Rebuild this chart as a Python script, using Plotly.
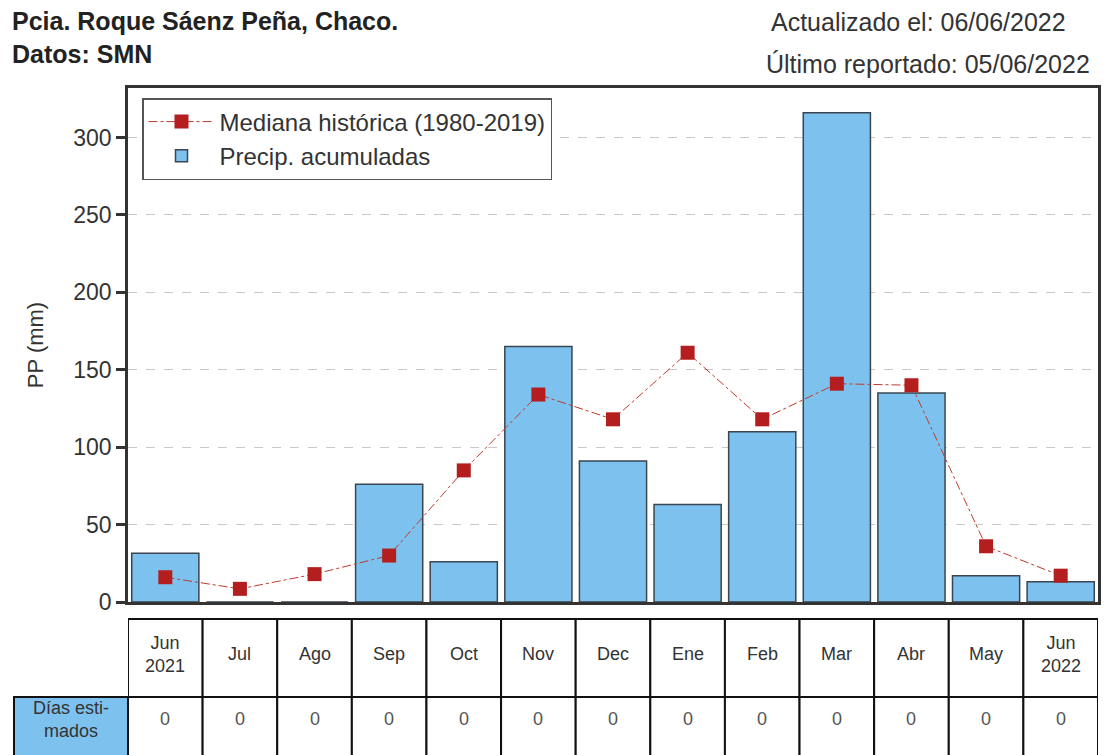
import plotly.graph_objects as go

# ---- data ----
months = ["Jun<br>2021", "Jul", "Ago", "Sep", "Oct", "Nov", "Dec", "Ene", "Feb", "Mar", "Abr", "May", "Jun<br>2022"]
precip = [31.5, 0, 0, 76, 26, 165, 91, 63, 110, 316, 135, 17, 13]
median = [16, 8.5, 18, 30, 85, 134, 118, 161, 118, 141, 140, 36, 17]
dias_estimados = [0, 0, 0, 0, 0, 0, 0, 0, 0, 0, 0, 0, 0]
y_ticks = [0, 50, 100, 150, 200, 250, 300]

title_left = "<b>Pcia. Roque Sáenz Peña, Chaco.<br>Datos: SMN</b>"
updated_text = "Actualizado el: 06/06/2022"
last_text = "Último reportado: 05/06/2022"
row_label = "Días esti-<br>mados"

# ---- layout geometry (pixels; page has an 8px body margin) ----
OFF = 8
W, H = 1114 - OFF, 755 - OFF
L = 128 - OFF
R = W - (1098 - OFF)
T = 88 - OFF
B = H - (602 - OFF)
plot_w = W - L - R
plot_h = H - T - B
FONT = "Liberation Sans, Arial, sans-serif"
BAR_COLOR = "#7DC2EF"
EDGE = "#3A4550"


def py(px):
    """reference-page pixel row -> paper y"""
    return (H - B - (px - OFF)) / plot_h


def pxp(px):
    """reference-page pixel column -> paper x"""
    return (px - OFF - L) / plot_w


xs = list(range(len(months)))

fig = go.Figure()
fig.add_trace(go.Bar(
    x=xs, y=precip, width=0.9, name="Precip. acumuladas",
    marker=dict(color=BAR_COLOR, line=dict(color=EDGE, width=1.5)),
    legendrank=2,
))
fig.add_trace(go.Scatter(
    x=xs, y=median, mode="lines+markers", name="Mediana histórica (1980-2019)",
    line=dict(color="#C0392B", width=1, dash="dashdot"),
    marker=dict(symbol="square", size=14, color="#B41E1E"),
    legendrank=1,
))

row1_top, row1_bot, row2_bot = py(619), py(697), py(775)
row1_mid = py(654)
row2_mid = py(719)

shapes = []
annotations = []
for i, (m, d) in enumerate(zip(months, dias_estimados)):
    for (y0, y1) in [(row1_bot, row1_top), (row2_bot, row1_bot)]:
        shapes.append(dict(type="rect", xref="x", yref="paper", x0=i - 0.5, x1=i + 0.5,
                           y0=y0, y1=y1, line=dict(color="#111111", width=2),
                           fillcolor="white", layer="above"))
    annotations.append(dict(x=i, y=row1_mid, xref="x", yref="paper", xanchor="center", yanchor="middle",
                            text=m, showarrow=False, font=dict(size=18, color="#333333", family=FONT)))
    annotations.append(dict(x=i, y=row2_mid, xref="x", yref="paper", xanchor="center", yanchor="middle",
                            text=str(d), showarrow=False, font=dict(size=18, color="#555555", family=FONT)))

# row label cell
lab_x0 = pxp(14)
shapes.append(dict(type="rect", xref="paper", yref="paper", x0=lab_x0, x1=0,
                   y0=row2_bot, y1=row1_bot, line=dict(color="#111111", width=2),
                   fillcolor=BAR_COLOR, layer="above"))
annotations.append(dict(x=lab_x0 / 2, y=row2_mid, xref="paper", yref="paper",
                        xanchor="center", yanchor="middle",
                        text=row_label, showarrow=False, font=dict(size=18, color="#333333", family=FONT)))

# header texts
annotations.append(dict(x=pxp(10), y=py(5), xref="paper", yref="paper",
                        xanchor="left", yanchor="top", align="left", text=title_left, showarrow=False,
                        font=dict(size=25, color="#222222", family=FONT)))
annotations.append(dict(x=pxp(918), y=py(22), xref="paper", yref="paper",
                        xanchor="center", yanchor="middle", text=updated_text, showarrow=False,
                        font=dict(size=25, color="#333333", family=FONT)))
annotations.append(dict(x=pxp(928), y=py(64), xref="paper", yref="paper",
                        xanchor="center", yanchor="middle", text=last_text, showarrow=False,
                        font=dict(size=25, color="#333333", family=FONT)))

fig.update_layout(
    width=W, height=H,
    margin=dict(l=L, r=R, t=T, b=B),
    paper_bgcolor="white", plot_bgcolor="white",
    font=dict(family=FONT, color="#333333"),
    showlegend=True,
    legend=dict(x=pxp(142), y=py(98), xanchor="left", yanchor="top",
                bgcolor="white", bordercolor="#555555", borderwidth=1.5, itemwidth=66,
                font=dict(size=24, color="#333333", family=FONT)),
    bargap=0.1,
    shapes=shapes,
    annotations=annotations,
)
fig.update_xaxes(range=[-0.5, len(months) - 0.5], showticklabels=False, ticks="",
                 showgrid=False, zeroline=False, showline=True, linecolor="#333333",
                 linewidth=2.5, mirror=True)
fig.update_yaxes(range=[0, 332], tickvals=y_ticks, ticks="outside", ticklen=9, tickwidth=2.5,
                 tickcolor="#333333", tickfont=dict(size=23, color="#333333"),
                 showgrid=True, gridcolor="#C8C8C8", gridwidth=1.2, griddash="dash",
                 zeroline=False, showline=True, linecolor="#333333", linewidth=2.5, mirror=True,
                 title=dict(text="PP (mm)", font=dict(size=22, color="#333333"), standoff=24))

fig.write_html("out.html")
